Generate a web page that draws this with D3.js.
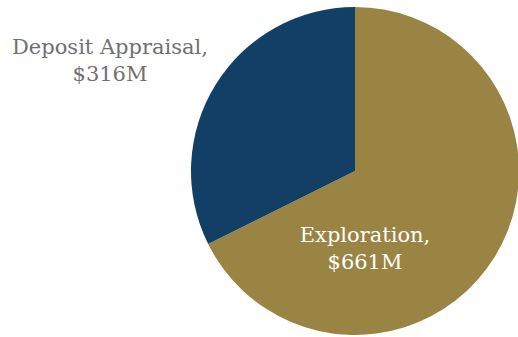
<!DOCTYPE html>
<html>
<head>
<meta charset="utf-8">
<script src="https://cdn.jsdelivr.net/npm/d3@7"></script>
<style>
  html, body { margin: 0; padding: 0; background: #fff; }
  svg { display: block; }
</style>
</head>
<body>
<svg id="chart" width="518" height="337"></svg>
<script>
// Spending split by activity (US$ millions)
const categories = ["Exploration", "Deposit Appraisal"];
const values = [661, 316];
const valueLabels = ["$661M", "$316M"];
const colors = ["#9a8444", "#123f66"];

const svg = d3.select("#chart");
const cx = 355, cy = 171, radius = 164;

const pie = d3.pie().sort(null).value(d => d.value);
const data = categories.map((c, i) => ({ name: c, value: values[i], label: valueLabels[i], color: colors[i] }));
const arcs = pie(data);
const arc = d3.arc().innerRadius(0).outerRadius(radius);

const g = svg.append("g").attr("transform", `translate(${cx},${cy})`);
g.selectAll("path")
  .data(arcs)
  .join("path")
  .attr("d", arc)
  .attr("fill", d => d.data.color);

// Label placement: one inside the gold slice, one outside to the upper left
const labelPos = [
  { x: 365, y: 242, fill: "#ffffff" },
  { x: 110, y: 54, fill: "#707070" }
];
const font = "Georgia, 'DejaVu Serif', 'Liberation Serif', serif";

data.forEach((d, i) => {
  const t = svg.append("text")
    .attr("x", labelPos[i].x)
    .attr("y", labelPos[i].y)
    .attr("text-anchor", "middle")
    .attr("font-family", font)
    .attr("font-size", 21)
    .attr("fill", labelPos[i].fill);
  t.append("tspan").attr("x", labelPos[i].x).text(d.name + ",");
  t.append("tspan").attr("x", labelPos[i].x).attr("dy", 27).text(d.label);
});
</script>
</body>
</html>
